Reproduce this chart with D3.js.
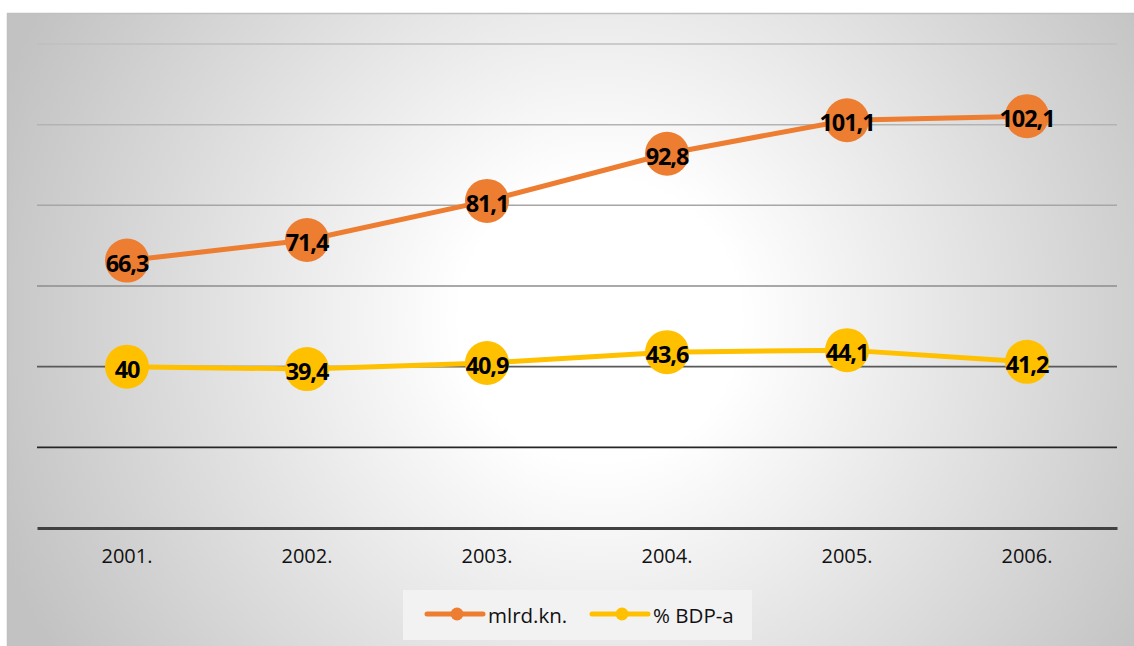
<!DOCTYPE html>
<html><head><meta charset="utf-8">
<script src="https://cdn.jsdelivr.net/npm/d3@7"></script>
<style>body{margin:0;background:#fff;}svg{display:block;}</style>
</head><body>
<svg id="c" width="1134" height="646"></svg>
<script>
const categories = ["2001.","2002.","2003.","2004.","2005.","2006."];
const seriesNames = ["mlrd.kn.","% BDP-a"];
const mlrd = [66.3,71.4,81.1,92.8,101.1,102.1];
const bdp = [40,39.4,40.9,43.6,44.1,41.2];
const yTicks = [0,20,40,60,80,100,120];
const colors = ["#ed7d31","#ffc000"];
const gridColors = {20:"#262626",40:"#595959",60:"#8c8c8c",80:"#a6a6a6",100:"#b3b3b3",120:"#bfbfbf"};

const svg = d3.select("#c");
const defs = svg.append("defs");
const rg = defs.append("radialGradient").attr("id","bg")
  .attr("gradientUnits","userSpaceOnUse").attr("cx",600).attr("cy",320).attr("r",640);
rg.append("stop").attr("offset","0").attr("stop-color","#ffffff");
rg.append("stop").attr("offset","0.22").attr("stop-color","#ffffff");
rg.append("stop").attr("offset","1").attr("stop-color","#c2c2c2");

svg.append("rect").attr("x",7).attr("y",13).attr("width",1127).attr("height",633).attr("fill","url(#bg)");
svg.append("line").attr("x1",7).attr("x2",1134).attr("y1",13.5).attr("y2",13.5).attr("stroke","#c0c0c0").attr("stroke-width",1.5);
svg.append("line").attr("x1",7.5).attr("x2",7.5).attr("y1",13).attr("y2",646).attr("stroke","#c0c0c0").attr("stroke-width",1.5);

const x = d3.scaleBand().domain(categories).range([37,1117]);
const y = d3.scaleLinear().domain([0,120]).range([528,44]);

svg.append("g").selectAll("line").data(yTicks.filter(t=>t>0)).join("line")
  .attr("x1",37).attr("x2",1117).attr("y1",d=>y(d)).attr("y2",d=>y(d))
  .attr("stroke",d=>gridColors[d]).attr("stroke-width",d=>d<=40?1.8:1.5);

const xa = svg.append("g").attr("transform",`translate(0,${y(0)})`)
  .call(d3.axisBottom(x).tickSize(0).tickPadding(21));
xa.select(".domain").attr("stroke","#404040").attr("stroke-width",3);
xa.selectAll("text").attr("font-family","'Open Sans',sans-serif").attr("font-size",20).attr("fill","#111");

const series = [mlrd, bdp];
const line = d3.line().x((d,i)=>x(categories[i])+x.bandwidth()/2).y(d=>y(d));
series.forEach((s,k)=>{
  const g = svg.append("g");
  g.append("path").datum(s).attr("d",line).attr("fill","none").attr("stroke",colors[k]).attr("stroke-width",5).attr("stroke-linecap","round");
  g.selectAll("circle").data(s).join("circle")
    .attr("cx",(d,i)=>x(categories[i])+x.bandwidth()/2).attr("cy",d=>y(d)).attr("r",22).attr("fill",colors[k]);
  g.selectAll("text").data(s).join("text")
    .attr("x",(d,i)=>x(categories[i])+x.bandwidth()/2).attr("y",d=>y(d)+2)
    .attr("text-anchor","middle").attr("dominant-baseline","central")
    .attr("font-family","'Open Sans',sans-serif").attr("font-weight","bold").attr("font-size",23.5)
    .attr("letter-spacing",-1.1).attr("fill","#000")
    .text(d=>d3.format(",")(d).replace(".",","));
});

svg.append("rect").attr("x",403).attr("y",590).attr("width",349).attr("height",50).attr("fill","#f2f2f2");
const lg = svg.append("g");
const legX = [427,592];
seriesNames.forEach((n,k)=>{
  lg.append("line").attr("x1",legX[k]).attr("x2",legX[k]+56).attr("y1",614).attr("y2",614)
    .attr("stroke",colors[k]).attr("stroke-width",5).attr("stroke-linecap","round");
  lg.append("circle").attr("cx",legX[k]+30).attr("cy",614).attr("r",6.5).attr("fill",colors[k]);
  lg.append("text").attr("x",legX[k]+61).attr("y",615).attr("dominant-baseline","central")
    .attr("font-family","'Open Sans',sans-serif").attr("font-size",20.5).attr("fill","#111").text(n);
});
</script>
</body></html>
